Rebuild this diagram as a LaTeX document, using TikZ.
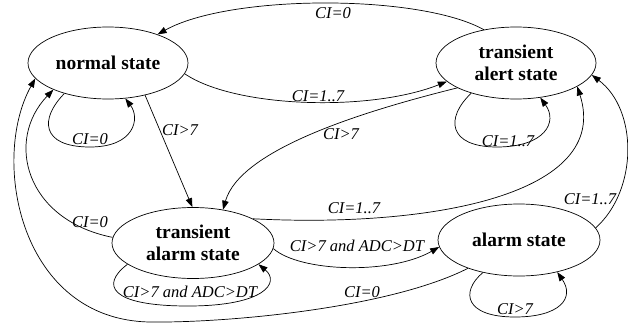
\documentclass[tikz,border=0pt]{standalone}
\usepackage{fontspec}
\setmainfont{Liberation Serif}
\usetikzlibrary{shapes.geometric,arrows.meta}
\begin{document}
\begin{tikzpicture}[x=1pt,y=-1pt,
  state/.style={draw, ellipse, line width=0.7pt, minimum width=160pt, minimum height=72pt, inner sep=0pt, align=center, font=\fontsize{19.5}{22}\selectfont\bfseries},
  lbl/.style={inner sep=0pt, font=\fontsize{16.5}{18}\selectfont\itshape},
  tr/.style={draw, line width=0.7pt, -{Triangle[length=9pt,width=6.5pt]}}]
\useasboundingbox (0,0) rectangle (628,326);
\fill[white] (0,0) rectangle (628,326);
\node[state] (N) at (108,63) {normal state};
\node[state] (TA) at (516,63) {transient\\alert state};
\node[state, minimum width=162pt, minimum height=71pt] (TM) at (193,243) {transient\\alarm state};
\node[state, minimum width=162pt] (A) at (519,240) {alarm state};
% connectors
\draw[tr] (TA.134) .. controls (420,-6) and (230,-6) .. (N.30);
\draw[tr] (N.-8) .. controls (235,108) and (370,112) .. (TA.195);
\draw[tr] (N.215) .. controls (40,118) and (40,147) .. (90,147) .. controls (135,147) and (140,118) .. (N.-64);
\draw[tr] (N.-41) -- (TM.91);
\draw[tr] (TA.203) .. controls (360,112) and (240,150) .. (TM.48);
\draw[tr] (TA.214) .. controls (445,118) and (448,147) .. (497,147) .. controls (545,147) and (558,122) .. (TA.-55);
\draw[tr] (A.9) .. controls (638,190) and (638,110) .. (TA.-9);
\draw[tr] (TM.22) .. controls (430,228) and (612,195) .. (TA.-21);
\draw[tr] (TM.176) .. controls (25,220) and (5,140) .. (N.206);
\draw[tr] (TM.198) .. controls (100,285) and (110,306) .. (188,306) .. controls (266,306) and (280,282) .. (TM.-18);
\draw[tr] (TM.-4) .. controls (300,272) and (390,275) .. (A.185);
\draw[tr] (A.209) .. controls (390,308) and (228,323) .. (150,322) .. controls (20,320) and (-10,160) .. (N.192);
\draw[tr] (A.222) .. controls (460,292) and (465,317) .. (515,317) .. controls (560,317) and (575,298) .. (A.-40);
% labels
\node[lbl] (l1) at (333,13) {CI=0};
\node[lbl] (l2) at (318,96) {CI=1..7};
\node[lbl] (l3) at (90,139) {CI=0};
\node[lbl] (l4) at (180,130) {CI>7};
\node[lbl] (l5) at (341,134) {CI>7};
\node[lbl] (l6) at (508,141) {CI=1..7};
\node[lbl] (l7) at (590,199) {CI=1..7};
\node[lbl] (l8) at (354,208) {CI=1..7};
\node[lbl] (l9) at (90,222) {CI=0};
\node[lbl] (l10) at (190,292) {CI>7 and ADC>DT};
\node[lbl] (l11) at (357,246) {CI>7 and ADC>DT};
\node[lbl] (l12) at (362,292) {CI=0};
\node[lbl] (l13) at (515,309) {CI>7};
\end{tikzpicture}
\end{document}
